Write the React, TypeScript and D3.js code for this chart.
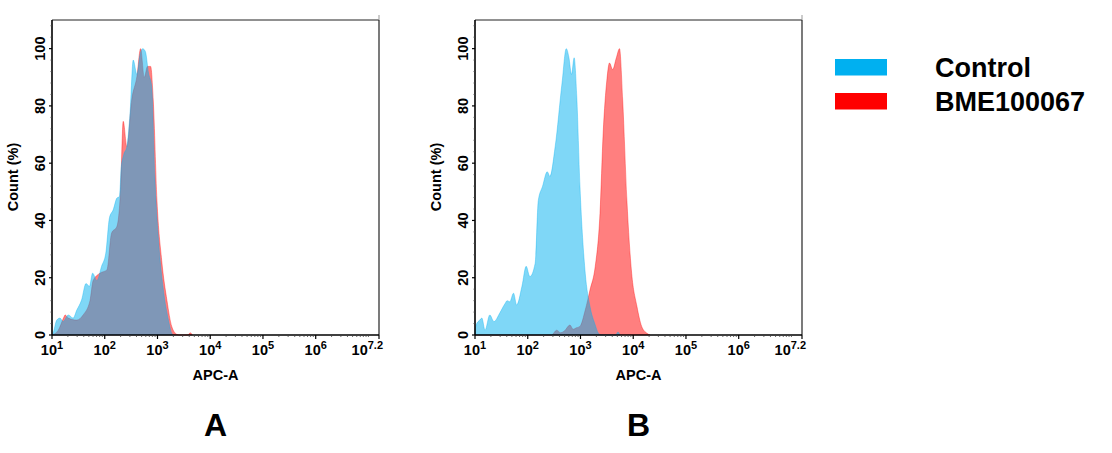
import React from 'react';
import * as d3 from 'd3';

// APC-A intensity given as log10 exponent, count as % of max
const ctrlAExp = [1.0, 1.02, 1.09, 1.15, 1.21, 1.31, 1.4, 1.47, 1.56, 1.645, 1.71, 1.77, 1.85, 1.94, 2.02, 2.09, 2.16, 2.23, 2.28, 2.31, 2.36, 2.42, 2.48, 2.54, 2.61, 2.67, 2.72, 2.77, 2.83, 2.89, 2.95, 3.02, 3.11, 3.21, 3.27, 3.3];
const ctrlACount = [0, 0.6, 5.2, 5.9, 4.7, 7, 5.9, 8.7, 12.2, 18, 17, 21.6, 19, 24, 28.6, 41, 43.7, 47.8, 48.4, 58, 63, 65.8, 77.5, 96, 91, 98, 100, 99, 91.5, 86.8, 55, 33, 16, 5, 0.6, 0];

const bmeAExp = [1.0, 1.12, 1.22, 1.25, 1.31, 1.47, 1.59, 1.72, 1.78, 1.91, 2.04, 2.13, 2.23, 2.3, 2.35, 2.42, 2.51, 2.61, 2.68, 2.75, 2.81, 2.87, 2.92, 2.99, 3.08, 3.18, 3.27, 3.37, 3.42, 3.58, 3.62, 3.66];
const bmeACount = [0, 1.7, 6, 7, 5.9, 5.2, 7, 12, 19, 21.6, 22.7, 35.6, 37.9, 50.7, 74.6, 65.8, 82, 90.3, 100, 90, 93.8, 93.8, 82, 47, 26, 12, 3, 0.2, 0, 0, 0.8, 0];

const ctrlBExp = [1.0, 1.02, 1.09, 1.13, 1.19, 1.28, 1.36, 1.47, 1.57, 1.61, 1.66, 1.73, 1.79, 1.89, 1.97, 2.04, 2.14, 2.2, 2.28, 2.37, 2.42, 2.52, 2.65, 2.73, 2.78, 2.83, 2.88, 2.93, 2.99, 3.09, 3.18, 3.28, 3.34, 3.4, 3.66, 3.71, 3.75];
const ctrlBCount = [1.5, 3.5, 5.2, 5.9, 1.7, 7, 4.7, 7.7, 11, 12, 11.6, 14.6, 10.5, 17, 24, 20.4, 25, 47, 51.9, 57, 55.4, 65.8, 88, 100, 97, 91, 96.8, 83, 52, 21.6, 10, 3.5, 0.6, 0, 0, 1, 0];

const bmeBExp = [1.0, 2.45, 2.55, 2.62, 2.7, 2.8, 2.86, 2.92, 2.99, 3.09, 3.18, 3.28, 3.37, 3.43, 3.5, 3.55, 3.61, 3.68, 3.74, 3.8, 3.88, 3.97, 4.07, 4.16, 4.26, 4.32];
const bmeBCount = [0, 0, 1.7, 0.8, 1.5, 3.5, 2, 2.5, 3, 8.7, 15.7, 24, 42.5, 70.5, 89, 95, 92.7, 96.8, 100, 82, 47, 21.6, 10, 3, 0.6, 0];

const xTickExp = ['1', '2', '3', '4', '5', '6', '7.2'];
const yTicks = [0, 20, 40, 60, 80, 100];
const seriesNames = ['Control', 'BME100067'];
const seriesColors = ['#00B0F0', '#FF0000'];
const panelNames = ['A', 'B'];

const W = 1112;
const H = 453;
const FONT = '"Liberation Sans", Arial, sans-serif';
const plotTop = 20;
const plotBottom = 335;
const plotW = 327;

type Pt = { e: number; c: number };
const zip = (xs: number[], ys: number[]): Pt[] => xs.map((e, i) => ({ e, c: ys[i] }));

const panels = [
  { left: 52, ctrl: zip(ctrlAExp, ctrlACount), bme: zip(bmeAExp, bmeACount) },
  { left: 475, ctrl: zip(ctrlBExp, ctrlBCount), bme: zip(bmeBExp, bmeBCount) },
];

const Panel: React.FC<{ left: number; ctrl: Pt[]; bme: Pt[]; name: string }> = ({ left, ctrl, bme, name }) => {
  const right = left + plotW;
  const x = d3.scaleLog().domain([10, Math.pow(10, 7.2)]).range([left, right]);
  const y = d3.scaleLinear().domain([0, 110]).range([plotBottom, plotTop]);

  const area = d3.area<Pt>()
    .x(d => x(Math.pow(10, d.e)))
    .y0(y(0))
    .y1(d => y(d.c))
    .curve(d3.curveMonotoneX);

  const minorX: number[] = [];
  for (let dec = 1; dec <= 7; dec++) {
    for (let m = dec === 7 ? 1 : 2; m <= 9; m++) {
      const v = m * Math.pow(10, dec);
      if (v < Math.pow(10, 7.2)) minorX.push(v);
    }
  }
  const minorY = d3.range(0, 110.1, 4).filter(v => v % 20 !== 0);
  const cx = (left + right) / 2;

  return (
    <g>
      <path d={area(bme) ?? ''} fill={seriesColors[1]} fillOpacity={0.5} stroke={seriesColors[1]} strokeOpacity={0.45} strokeWidth={0.8} />
      <path d={area(ctrl) ?? ''} fill={seriesColors[0]} fillOpacity={0.5} stroke={seriesColors[0]} strokeOpacity={0.45} strokeWidth={0.8} />

      {/* frame */}
      <line x1={left} x2={right} y1={plotTop} y2={plotTop} stroke="#222" strokeWidth={1} />
      <line x1={right} x2={right} y1={plotTop} y2={plotBottom} stroke="#222" strokeWidth={1.2} />
      <line x1={right} x2={right} y1={plotTop - 5} y2={plotTop} stroke="#999" strokeWidth={1} />
      <line x1={left} x2={left} y1={plotTop} y2={plotBottom} stroke="#000" strokeWidth={1.6} />
      <line x1={left} x2={right} y1={plotBottom} y2={plotBottom} stroke="#000" strokeWidth={1.6} />

      {/* y ticks */}
      {minorY.map(v => (
        <line key={'my' + v} x1={left - 1.5} x2={left} y1={y(v)} y2={y(v)} stroke="#444" strokeWidth={0.8} />
      ))}
      {yTicks.map(v => (
        <g key={'y' + v}>
          <line x1={left - 3} x2={left} y1={y(v)} y2={y(v)} stroke="#000" strokeWidth={1.2} />
          <text transform={`translate(${left - 7},${y(v)}) rotate(-90)`} textAnchor="middle"
            fontFamily={FONT} fontWeight="bold" fontSize={14.5}>{v}</text>
        </g>
      ))}

      {/* x ticks */}
      {minorX.map(v => (
        <line key={'mx' + v} x1={x(v)} x2={x(v)} y1={plotBottom} y2={plotBottom + 2} stroke="#444" strokeWidth={0.8} />
      ))}
      {xTickExp.map((e, i) => {
        const px = x(Math.pow(10, +e));
        const last = i === xTickExp.length - 1;
        return (
          <g key={'x' + e}>
            <line x1={px} x2={px} y1={plotBottom} y2={plotBottom + 4} stroke="#000" strokeWidth={1.2} />
            <text x={last ? px + 4 : px} y={355} textAnchor={last ? 'end' : 'middle'}
              fontFamily={FONT} fontWeight="bold" fontSize={14.5}>
              10<tspan dy={-6} fontSize={11}>{e}</tspan>
            </text>
          </g>
        );
      })}

      <text transform={`translate(${left - 34},177) rotate(-90)`} textAnchor="middle"
        fontFamily={FONT} fontWeight="bold" fontSize={14.5}>Count  (%)</text>
      <text x={cx} y={380} textAnchor="middle" fontFamily={FONT} fontWeight="bold" fontSize={14.5}>APC-A</text>
      <text x={cx} y={436} textAnchor="middle" fontFamily={FONT} fontWeight="bold" fontSize={32}>{name}</text>
    </g>
  );
};

export default function App() {
  return (
    <svg width={W} height={H} style={{ position: 'absolute', left: 0, top: 0, background: '#fff' }}>
      <rect width={W} height={H} fill="#fff" />
      {panels.map((p, i) => (
        <Panel key={i} left={p.left} ctrl={p.ctrl} bme={p.bme} name={panelNames[i]} />
      ))}
      {seriesNames.map((s, i) => (
        <g key={s}>
          <rect x={835} y={59 + i * 34} width={52} height={16.5} fill={seriesColors[i]} />
          <text x={935} y={77 + i * 34} fontFamily={FONT} fontWeight="bold" fontSize={27}>{s}</text>
        </g>
      ))}
    </svg>
  );
}
